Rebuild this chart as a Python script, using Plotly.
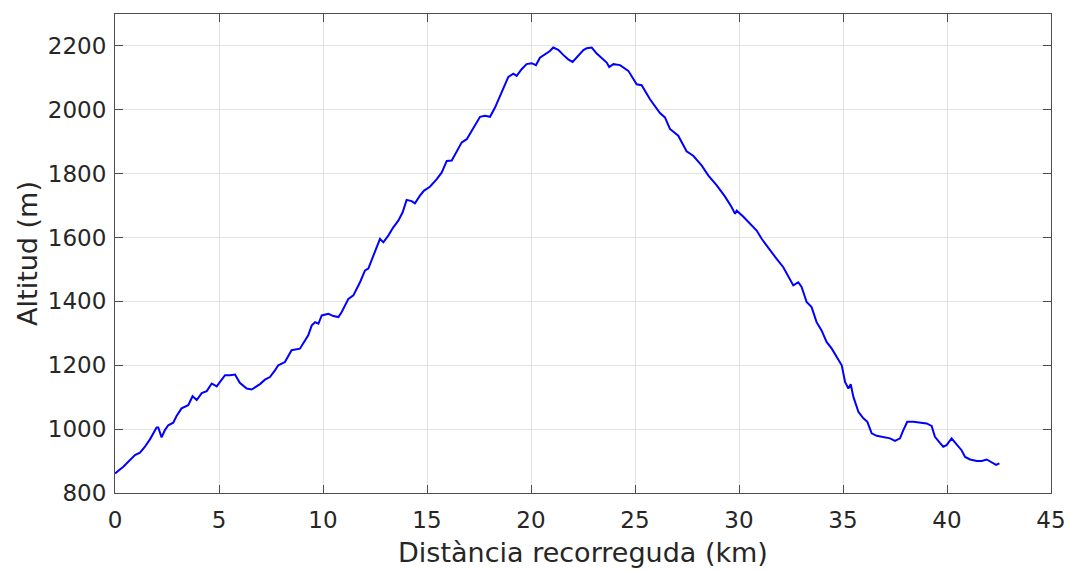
import plotly.graph_objects as go

# Distance along route (km) and altitude (m)
distance_km = [
    0.0, 0.4, 0.96, 1.2, 1.44, 1.68, 2.0, 2.08, 2.24, 2.4, 2.56, 2.8, 2.96, 3.2, 3.52,
    3.73, 3.93, 4.17, 4.41, 4.65, 4.89, 5.29, 5.53, 5.77, 6.0, 6.33, 6.57, 6.97, 7.21,
    7.45, 7.69, 7.85, 8.17, 8.49, 8.89, 9.29, 9.46, 9.62, 9.78, 9.94, 10.26, 10.5,
    10.74, 10.9, 11.22, 11.46, 11.78, 12.02, 12.18, 12.34, 12.58, 12.74, 12.9, 13.14,
    13.38, 13.62, 13.83, 14.02, 14.26, 14.42, 14.66, 14.86, 15.14, 15.47, 15.71, 15.95,
    16.19, 16.43, 16.67, 16.91, 17.15, 17.39, 17.55, 17.79, 18.03, 18.27, 18.48, 18.67,
    18.91, 19.15, 19.31, 19.55, 19.79, 20.03, 20.24, 20.43, 20.72, 20.91, 21.07, 21.31,
    21.55, 21.79, 22.0, 22.28, 22.52, 22.68, 22.92, 23.16, 23.4, 23.64, 23.76, 23.96,
    24.28, 24.68, 25.08, 25.32, 25.72, 26.2, 26.44, 26.68, 27.08, 27.48, 27.8, 28.21,
    28.53, 28.93, 29.33, 29.65, 29.81, 29.89, 30.2, 30.53, 30.85, 31.09, 31.49, 31.81,
    32.13, 32.45, 32.61, 32.85, 33.01, 33.25, 33.49, 33.73, 33.97, 34.21, 34.46, 34.7,
    34.94, 35.1, 35.26, 35.37, 35.5, 35.74, 35.98, 36.17, 36.38, 36.62, 36.94, 37.26,
    37.5, 37.74, 37.9, 38.09, 38.38, 38.7, 39.02, 39.26, 39.42, 39.66, 39.82, 39.98,
    40.22, 40.46, 40.7, 40.87, 41.11, 41.43, 41.67, 41.91, 42.15, 42.36, 42.52,
]
altitude_m = [
    861, 882, 919, 926, 945, 968, 1005, 1005, 974, 997, 1012, 1020, 1041, 1065, 1075,
    1103, 1091, 1113, 1119, 1143, 1134, 1169, 1169, 1171, 1145, 1127, 1124, 1141, 1155,
    1163, 1184, 1200, 1210, 1247, 1252, 1294, 1325, 1335, 1330, 1356, 1361, 1354,
    1351, 1367, 1408, 1419, 1460, 1497, 1503, 1528, 1570, 1596, 1585, 1606,
    1632, 1653, 1679, 1718, 1714, 1707, 1731, 1747, 1759, 1783, 1804, 1840,
    1841, 1872, 1898, 1908, 1934, 1960, 1978, 1981, 1978, 2007, 2038, 2065,
    2103, 2113, 2106, 2127, 2143, 2146, 2140, 2163, 2176, 2184, 2195, 2188,
    2172, 2158, 2150, 2169, 2187, 2193, 2195, 2176, 2163, 2148, 2134, 2143,
    2140, 2122, 2080, 2077, 2033, 1990, 1976, 1940, 1919, 1870, 1856, 1825,
    1794, 1763, 1728, 1695, 1674, 1684, 1666, 1643, 1622, 1596, 1559, 1533,
    1507, 1471, 1450, 1460, 1445, 1398, 1382, 1335, 1309, 1273, 1252, 1226,
    1200, 1148, 1127, 1141, 1101, 1054, 1034, 1023, 987, 979, 976, 971,
    963, 971, 997, 1023, 1023, 1020, 1018, 1010, 976, 957, 945, 950,
    971, 952, 934, 913, 905, 900, 900, 905, 895, 888, 893,
]

x_ticks = [0, 5, 10, 15, 20, 25, 30, 35, 40, 45]
y_ticks = [800, 1000, 1200, 1400, 1600, 1800, 2000, 2200]

TEXT = "#262626"
AXIS = "#4d4d4d"
GRID = "#e3e3e3"
FONT = "DejaVu Sans"

fig = go.Figure(
    go.Scatter(
        x=distance_km,
        y=altitude_m,
        mode="lines",
        line=dict(color="#0000ff", width=2),
        showlegend=False,
    )
)

axis_common = dict(
    showline=True,
    linecolor=AXIS,
    linewidth=1,
    mirror="ticks",
    ticks="inside",
    ticklen=8,
    tickwidth=1,
    tickcolor=AXIS,
    showgrid=True,
    gridcolor=GRID,
    gridwidth=1,
    zeroline=False,
    automargin=False,
    tickfont=dict(family=FONT, size=23, color=TEXT),
)

fig.update_layout(
    width=1069,
    height=571,
    margin=dict(l=115, r=18, t=14, b=78),
    paper_bgcolor="white",
    plot_bgcolor="white",
    font=dict(family=FONT, color=TEXT),
    xaxis=dict(
        range=[0, 45],
        tickvals=x_ticks,
        ticktext=[str(v) for v in x_ticks],
        ticklabelstandoff=6,
        title=dict(text="Distància recorreguda (km)",
                   font=dict(family=FONT, size=27, color=TEXT), standoff=11),
        **axis_common,
    ),
    yaxis=dict(
        range=[800, 2300],
        tickvals=y_ticks,
        ticktext=[str(v) for v in y_ticks],
        ticklabelstandoff=3,
        title=dict(text="Altitud (m)",
                   font=dict(family=FONT, size=27, color=TEXT), standoff=2),
        **axis_common,
    ),
)

fig.write_html("out.html")
